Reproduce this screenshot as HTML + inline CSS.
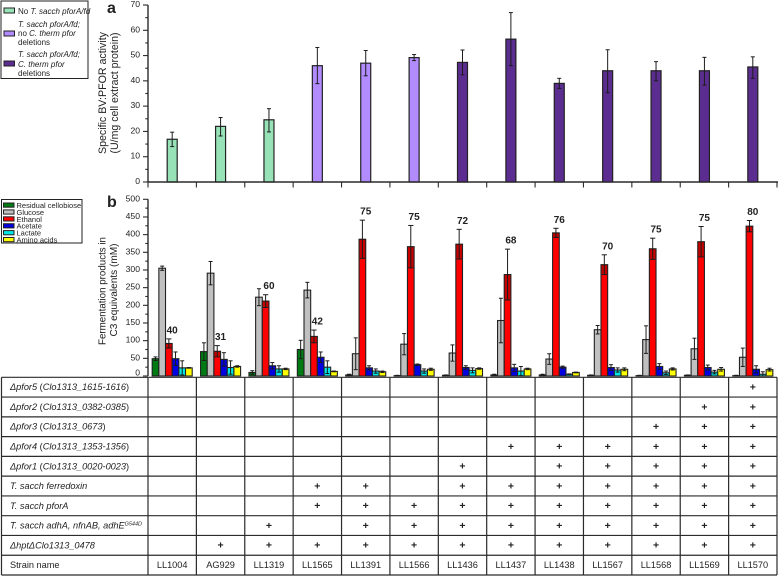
<!DOCTYPE html>
<html lang="en">
<head>
<meta charset="utf-8">
<title>PFOR activity and fermentation products by strain</title>
<style>
html,body{margin:0;padding:0;background:#fff;width:779px;height:577px;overflow:hidden}
svg{display:block;filter:blur(0.3px)}
text{font-family:"Liberation Sans",sans-serif;fill:#222}
.i{font-style:italic}
</style>
</head>
<body>
<svg id="fig" width="779" height="577" viewBox="0 0 779 577" xmlns="http://www.w3.org/2000/svg">
  <g>
    <rect x="1" y="1" width="87" height="77.5" fill="#fff" stroke="#222" stroke-width="1"/>
    <rect x="4" y="8" width="10.5" height="5" fill="#98e2b8" stroke="#222"/>
    <text x="18" y="14" font-size="8"><tspan>No </tspan><tspan class="i">T. sacch pforA/fd</tspan></text>
    <rect x="4" y="31" width="10.5" height="5" fill="#b28cff" stroke="#222"/>
    <text font-size="8"><tspan class="i" x="18" y="27">T. sacch pforA/fd;</tspan><tspan x="18" y="36">no </tspan><tspan class="i">C. therm pfor</tspan><tspan x="18" y="45">deletions</tspan></text>
    <rect x="4" y="61" width="10.5" height="5" fill="#5b2d91" stroke="#222"/>
    <text font-size="8"><tspan class="i" x="18" y="57">T. sacch pforA/fd;</tspan><tspan class="i" x="18" y="67">C. therm pfor</tspan><tspan x="18" y="76">deletions</tspan></text>
  </g>
  <g id="legendB">
    <rect x="1.5" y="199.5" width="80.5" height="43.5" fill="#fff" stroke="#222" stroke-width="1"/>
  </g>
  <text x="107" y="13" font-size="16" font-weight="bold" fill="#111">a</text>
  <text x="107" y="207" font-size="16" font-weight="bold" fill="#111">b</text>
  <g font-size="11" text-anchor="middle">
    <text transform="translate(106,93) rotate(-90)" textLength="122" lengthAdjust="spacingAndGlyphs">Specific BV:PFOR activity</text>
    <text transform="translate(118,93) rotate(-90)" textLength="121" lengthAdjust="spacingAndGlyphs">(U/mg cell extract protein)</text>
  </g>
  <g font-size="10.5" text-anchor="middle">
    <text transform="translate(105.5,291) rotate(-90)" textLength="108" lengthAdjust="spacingAndGlyphs">Fermentation products in</text>
    <text transform="translate(117,290) rotate(-90)" textLength="93" lengthAdjust="spacingAndGlyphs">C3 equivalents (mM)</text>
  </g>
  <g id="chartA"></g>
  <g id="chartB"></g>
  <g id="table"></g>
</svg>
<script>
// Panel a data
const strains = ['LL1004','AG929','LL1319','LL1565','LL1391','LL1566','LL1436','LL1437','LL1438','LL1567','LL1568','LL1569','LL1570'];
const activity = [16.9,22,24.6,46,47,49.2,47.3,56.5,39,44,44,44,45.5];
const activityHigh = [19.7,25.5,29,53.2,52,50.4,52.2,67,41,52.3,47.6,49.3,49.5];
const activityLow = [14,18.2,19.8,38.9,42,48,42.4,46,37,35.3,40,38.3,41];
const activityGroup = [0,0,0,1,1,1,2,2,2,2,2,2,2];
const groupColors = ['#98e2b8','#b28cff','#5b2d91'];
const ticksA = [0,10,20,30,40,50,60,70];
const minorTicksA = [5,15,25,35,45,55,65];

// Panel b data
const productNames = ['Residual cellobiose','Glucose','Ethanol','Acetate','Lactate','Amino acids'];
const productColors = ['#007a12','#c0c0c0','#ff0000','#0000e0','#00e5e5','#ffff00'];
const cellobiose = [49,69,10,75,3,1,2,3,3,2,1,2,1];
const glucose = [305,291,223,243,63,90,65,157,48,131,103,77,53];
const ethanol = [92,70,212,112,387,366,373,287,405,315,360,380,424];
const acetate = [49,47,29,53,23,32,24,23,25,24,27,24,19];
const lactate = [23,24,20,25,14,14,16,14,5,17,9,11,5];
const aminoAcids = [23,27,20,13,12,19,21,20,10,19,20,19,18];
const cellobioseErr = [5,25,5,26,2,1,1,2,2,1,1,1,1];
const glucoseErr = [6,33,24,22,45,30,23,63,15,12,39,30,26];
const ethanolErr = [13,16,18,18,54,60,42,72,13,28,30,43,16];
const acetateErr = [19,19,9,15,6,2,5,10,3,8,8,7,10];
const lactateErr = [20,19,9,18,6,6,7,13,1,6,5,5,7];
const aminoAcidsErr = [1,2,2,1,2,3,2,2,1,4,3,5,4];
const yieldLabels = ['40','31','60','42','75','75','72','68','76','70','75','75','80'];
const ticksB = [0,50,100,150,200,250,300,350,400,450,500];
const minorTicksB = [25,75,125,175,225,275,325,375,425,475];

// Table data
const tableRows = [
  {label:[['Δpfor5',1],[' (',0],['Clo1313_1615-1616',1],[')',0]], marks:'0000000000001'},
  {label:[['Δpfor2',1],[' (',0],['Clo1313_0382-0385',1],[')',0]], marks:'0000000000011'},
  {label:[['Δpfor3',1],[' (',0],['Clo1313_0673',1],[')',0]], marks:'0000000000111'},
  {label:[['Δpfor4',1],[' (',0],['Clo1313_1353-1356',1],[')',0]], marks:'0000000111111'},
  {label:[['Δpfor1',1],[' (',0],['Clo1313_0020-0023',1],[')',0]], marks:'0000001011111'},
  {label:[['T. sacch ferredoxin',1]], marks:'0001101111111'},
  {label:[['T. sacch pforA',1]], marks:'0001111111111'},
  {label:[['T. sacch adhA, nfnAB, adhE',1],['G544D',2]], marks:'0010111111111'},
  {label:[['ΔhptΔClo1313_0478',1]], marks:'0111111111111'}
];

const NS = 'http://www.w3.org/2000/svg';
const X0 = 148, X1 = 777, SLOT = (X1 - X0) / strains.length;
const xPos = i => X0 + SLOT * i;
const yA = v => 182 - v * (177 / 70);
const yB = v => 376 - v * (176.7 / 500);
const INK = '#2b2b2b';

function mk(parent, tag, attrs, txt) {
  const el = document.createElementNS(NS, tag);
  for (const k in attrs) el.setAttribute(k, attrs[k]);
  if (txt !== undefined) el.textContent = txt;
  parent.appendChild(el);
  return el;
}
function line(parent, x1, y1, x2, y2, w, c) {
  return mk(parent, 'line', {x1, y1, x2, y2, stroke: c || INK, 'stroke-width': w || 1});
}
function errorBar(parent, x, hi, lo, cap) {
  const g = mk(parent, 'g', {});
  line(g, x, hi, x, lo, 1, '#1c1c1c');
  line(g, x - cap, hi, x + cap, hi, 1, '#1c1c1c');
  line(g, x - cap, lo, x + cap, lo, 1, '#1c1c1c');
  return g;
}
function yAxis(parent, yf, majors, minors, top, bottom, labelY, name) {
  const ax = line(parent, X0, top, X0, bottom, 1.4);
  
  
  majors.forEach(v => {
    const t = line(parent, 143, yf(v), X0, yf(v), 1.1);
    
    
    const lb = mk(parent, 'text', {x: 140, y: labelY(v), 'font-size': 8.6, 'text-anchor': 'end'}, String(v));
    
    
  });
  minors.forEach(v => {
    const t = line(parent, 145.3, yf(v), X0, yf(v), 1.1);
    
    
  });
}

// Panel a
const chartA = document.getElementById('chartA');
activity.forEach((v, i) => {
  const cx = xPos(i + 0.5);
  const bar = mk(chartA, 'rect', {x: cx - 5, y: yA(v), width: 10, height: yA(0) - yA(v), fill: groupColors[activityGroup[i]], stroke: '#222', 'stroke-width': 1.2});
  
  
  const eb = errorBar(chartA, cx, yA(activityHigh[i]), yA(activityLow[i]), 2);
  
  
});
yAxis(chartA, yA, ticksA, minorTicksA, yA(70), yA(0), v => yA(v) + 2, 'y-axis-a');
const axA = line(chartA, X0, yA(0), X1 + 1, yA(0), 1.4);


for (let i = 0; i <= strains.length; i++) {
  const t = line(chartA, xPos(i), yA(0), xPos(i), yA(0) + 5.5, 1.1);
  
  
}

// Panel b
const chartB = document.getElementById('chartB');
const series = [cellobiose, glucose, ethanol, acetate, lactate, aminoAcids];
const seriesErr = [cellobioseErr, glucoseErr, ethanolErr, acetateErr, lactateErr, aminoAcidsErr];
const BW = 6.67;
series.forEach((vals, s) => {
  vals.forEach((v, i) => {
    const bx = xPos(i + 0.5) - 3 * BW + s * BW;
    const bar = mk(chartB, 'rect', {x: bx, y: yB(v), width: BW, height: yB(0) - yB(v), fill: productColors[s], stroke: '#222', 'stroke-width': 1.1});
    
    
    const e = seriesErr[s][i];
    const lo = Math.max(v - e, 0);
    if (s === 2) {
      const shade = mk(chartB, 'rect', {x: bx + 0.5, y: yB(v), width: BW - 1, height: yB(lo) - yB(v), fill: '#000', 'fill-opacity': 0.22});
      
      
    }
    const eb = errorBar(chartB, bx + BW / 2, yB(v + e), yB(lo), s === 2 ? 2.6 : 2);
    
    
  });
});
yieldLabels.forEach((txt, i) => {
  const top = yB(ethanol[i] + ethanolErr[i]);
  const lb = mk(chartB, 'text', {x: xPos(i + 0.5), y: top - 5.5, 'font-size': 10, 'font-weight': 'bold', 'text-anchor': 'middle', fill: '#1c1c1c'}, txt);
  
  
});
yAxis(chartB, yB, ticksB, minorTicksB, yB(500), yB(0), v => v === 0 ? 375.5 : yB(v) + 2, 'y-axis-b');

// Legend b
const legendB = document.getElementById('legendB');
productNames.forEach((name, k) => {
  const sy = 203 + k * 6.9;
  const sw = mk(legendB, 'rect', {x: 3.5, y: sy, width: 10.5, height: 4.2, fill: productColors[k], stroke: '#222', 'stroke-width': 1});
  
  
  const lb = mk(legendB, 'text', {x: 16.5, y: sy + 5, 'font-size': 7.5}, name);
  
  
});

// Table
const table = document.getElementById('table');
const TOP = 377.3, ROWH = 19.77, LEFT = 1.5;
const rowCount = tableRows.length + 1;
for (let r = 0; r <= rowCount; r++) {
  const y = TOP + r * ROWH;
  const l = line(table, LEFT, y, X1, y, 1.2);
  
  
}
const leftEdge = line(table, LEFT, TOP, LEFT, TOP + rowCount * ROWH, 1.2);


for (let c = 0; c <= strains.length; c++) {
  const l = line(table, xPos(c), TOP, xPos(c), TOP + rowCount * ROWH, 1.2);
  
  
}
tableRows.forEach((row, r) => {
  const base = TOP + r * ROWH + ROWH / 2 + 3;
  const lb = mk(table, 'text', {x: 10, y: base, 'font-size': 9.2});
  
  
  row.label.forEach(part => {
    const ts = mk(lb, 'tspan', {}, part[0]);
    if (part[1] >= 1) ts.setAttribute('font-style', 'italic');
    if (part[1] === 2) {
      ts.setAttribute('font-size', '5.5');
      ts.setAttribute('dy', '-3');
    }
  });
  [...row.marks].forEach((m, c) => {
    if (m !== '1') return;
    const p = mk(table, 'text', {x: xPos(c + 0.5), y: base + 0.4, 'font-size': 10.5, 'font-weight': 'bold', 'text-anchor': 'middle', fill: '#1c1c1c'}, '+');
    
    
  });
});
const nameBase = TOP + tableRows.length * ROWH + ROWH / 2 + 3;
const nameLabel = mk(table, 'text', {x: 10, y: nameBase, 'font-size': 9.2}, 'Strain name');


strains.forEach((s, c) => {
  const t = mk(table, 'text', {x: xPos(c + 0.5), y: nameBase, 'font-size': 9.2, 'text-anchor': 'middle'}, s);
  
  
});
</script>
</body>
</html>
